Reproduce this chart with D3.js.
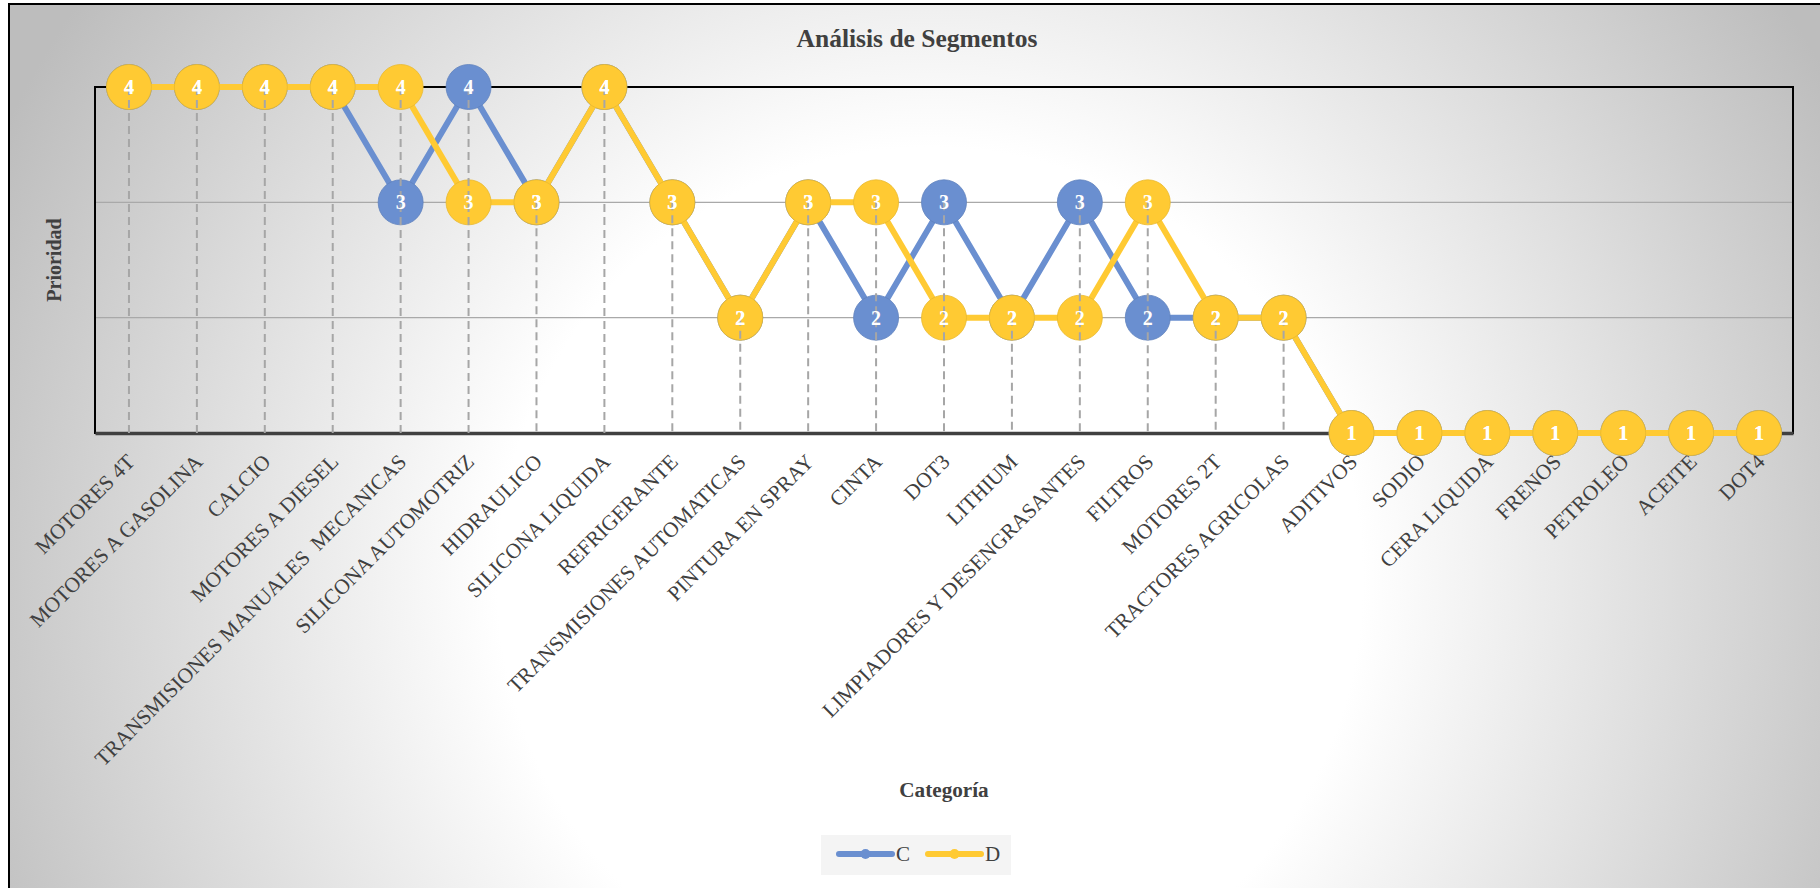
<!DOCTYPE html>
<html>
<head>
<meta charset="utf-8">
<script src="https://cdn.jsdelivr.net/npm/d3@7"></script>
<style>
  html, body { margin: 0; padding: 0; background: #ffffff; }
  svg { display: block; }
  text { font-family: "Liberation Serif", "Times New Roman", serif; }
</style>
</head>
<body>
<svg id="chart" width="1820" height="888"></svg>
<script>
// Categories along the x axis
const categories = [
  "MOTORES 4T", "MOTORES A GASOLINA", "CALCIO", "MOTORES A DIESEL",
  "TRANSMISIONES MANUALES  MECANICAS", "SILICONA AUTOMOTRIZ", "HIDRAULICO",
  "SILICONA LIQUIDA", "REFRIGERANTE", "TRANSMISIONES AUTOMATICAS",
  "PINTURA EN SPRAY", "CINTA", "DOT3", "LITHIUM",
  "LIMPIADORES Y DESENGRASANTES", "FILTROS", "MOTORES 2T",
  "TRACTORES AGRICOLAS", "ADITIVOS", "SODIO", "CERA LIQUIDA", "FRENOS",
  "PETROLEO", "ACEITE", "DOT4"
];

// Priority per category, series C and D
const seriesC = [4, 4, 4, 4, 3, 4, 3, 4, 3, 2, 3, 2, 3, 2, 3, 2, 2, 2, 1, 1, 1, 1, 1, 1, 1];
const seriesD = [4, 4, 4, 4, 4, 3, 3, 4, 3, 2, 3, 3, 2, 2, 2, 3, 2, 2, 1, 1, 1, 1, 1, 1, 1];

const seriesNames = ["C", "D"];
const yTicks = [1, 2, 3, 4];

const colors = { C: "#6A8FD0", D: "#FFCA33" };
const textColor = "#404040";

const svg = d3.select("#chart");
const W = 1820, H = 888;

// Chart-area background: radial gradient, white centre fading to grey
const defs = svg.append("defs");
const grad = defs.append("radialGradient")
  .attr("id", "bg")
  .attr("gradientUnits", "userSpaceOnUse")
  .attr("cx", 930).attr("cy", 580).attr("r", 1030);
grad.append("stop").attr("offset", 0).attr("stop-color", "#ffffff");
grad.append("stop").attr("offset", 0.42).attr("stop-color", "#ffffff");
grad.append("stop").attr("offset", 1).attr("stop-color", "#bdbdbd");

svg.append("rect")
  .attr("x", 9).attr("y", 4)
  .attr("width", W + 40).attr("height", H + 40)
  .attr("fill", "url(#bg)")
  .attr("stroke", "#000").attr("stroke-width", 2);

// Plot area
const plot = { left: 95, right: 1793, top: 87, bottom: 433 };

const x = d3.scalePoint()
  .domain(categories)
  .range([plot.left, plot.right])
  .padding(0.5);

const y = d3.scaleLinear()
  .domain([d3.min(yTicks), d3.max(yTicks)])
  .range([plot.bottom, plot.top]);

// Horizontal gridlines
svg.append("g")
  .selectAll("line")
  .data(yTicks.filter(t => t > 1 && t < 4))
  .join("line")
  .attr("x1", plot.left).attr("x2", plot.right)
  .attr("y1", d => y(d)).attr("y2", d => y(d))
  .attr("stroke", "#a9a9a9").attr("stroke-width", 1.2);

// Plot-area frame
svg.append("rect")
  .attr("x", plot.left).attr("y", plot.top)
  .attr("width", plot.right - plot.left)
  .attr("height", plot.bottom - plot.top)
  .attr("fill", "none")
  .attr("stroke", "#000").attr("stroke-width", 2);

// Category axis line
const xAxis = d3.axisBottom(x).tickSize(0).tickFormat("");
const axisG = svg.append("g")
  .attr("transform", `translate(0,${plot.bottom})`)
  .call(xAxis);
axisG.select(".domain")
  .attr("stroke", "#404040").attr("stroke-width", 3.5);

// Category labels, rotated
svg.append("g")
  .selectAll("text")
  .data(categories)
  .join("text")
  .attr("transform", d => `translate(${x(d) + 7},${plot.bottom + 30}) rotate(-45)`)
  .attr("text-anchor", "end")
  .style("white-space", "pre")
  .attr("font-size", 21.3)
  .attr("fill", textColor)
  .text(d => d);

const rows = categories.map((c, i) => ({ cat: c, C: seriesC[i], D: seriesD[i] }));

const line = key => d3.line()
  .x(d => x(d.cat))
  .y(d => y(d[key]));

// Lines and markers, series C then D
const markerR = 22.5;
seriesNames.forEach(key => {
  const g = svg.append("g");
  g.append("path")
    .datum(rows)
    .attr("d", line(key))
    .attr("fill", "none")
    .attr("stroke", colors[key])
    .attr("stroke-width", 6)
    .attr("stroke-linejoin", "round");
  g.selectAll("circle")
    .data(rows)
    .join("circle")
    .attr("cx", d => x(d.cat))
    .attr("cy", d => y(d[key]))
    .attr("r", markerR)
    .attr("fill", colors[key])
    .attr("stroke", d3.color(colors[key]).darker(0.25))
    .attr("stroke-width", 0.8);
});

// Drop lines from the highest point of each category to the axis
svg.append("g")
  .selectAll("line")
  .data(rows)
  .join("line")
  .attr("x1", d => x(d.cat)).attr("x2", d => x(d.cat))
  .attr("y1", d => y(Math.max(d.C, d.D)))
  .attr("y2", plot.bottom)
  .attr("stroke", "#a6a6a6")
  .attr("stroke-width", 2)
  .attr("stroke-dasharray", "8,5");

// Value labels inside the markers
seriesNames.forEach(key => {
  svg.append("g")
    .selectAll("text")
    .data(rows)
    .join("text")
    .attr("x", d => x(d.cat))
    .attr("y", d => y(d[key]) + 7)
    .attr("text-anchor", "middle")
    .attr("font-size", 20)
    .attr("font-weight", "bold")
    .attr("fill", "#ffffff")
    .text(d => d[key]);
});

// Title
svg.append("text")
  .attr("x", 917).attr("y", 47)
  .attr("text-anchor", "middle")
  .attr("font-size", 25.5)
  .attr("font-weight", "bold")
  .attr("fill", textColor)
  .text("Análisis de Segmentos");

// Axis titles
svg.append("text")
  .attr("transform", `translate(61,${(plot.top + plot.bottom) / 2}) rotate(-90)`)
  .attr("text-anchor", "middle")
  .attr("font-size", 20)
  .attr("font-weight", "bold")
  .attr("fill", textColor)
  .text("Prioridad");

svg.append("text")
  .attr("x", 944).attr("y", 797)
  .attr("text-anchor", "middle")
  .attr("font-size", 21.2)
  .attr("font-weight", "bold")
  .attr("fill", textColor)
  .text("Categoría");

// Legend
const legend = svg.append("g");
legend.append("rect")
  .attr("x", 821).attr("y", 835)
  .attr("width", 190).attr("height", 40)
  .attr("fill", "#f2f2f2").attr("fill-opacity", 0.85);

const legendX = { C: 837, D: 926 };
seriesNames.forEach(key => {
  const lx = legendX[key];
  legend.append("line")
    .attr("x1", lx + 2).attr("x2", lx + 55)
    .attr("y1", 854).attr("y2", 854)
    .attr("stroke", colors[key])
    .attr("stroke-width", 6)
    .attr("stroke-linecap", "round");
  legend.append("circle")
    .attr("cx", lx + 28.5).attr("cy", 854)
    .attr("r", 5)
    .attr("fill", colors[key]);
  legend.append("text")
    .attr("x", lx + 59).attr("y", 861)
    .attr("font-size", 21)
    .attr("fill", textColor)
    .text(key);
});
</script>
</body>
</html>
